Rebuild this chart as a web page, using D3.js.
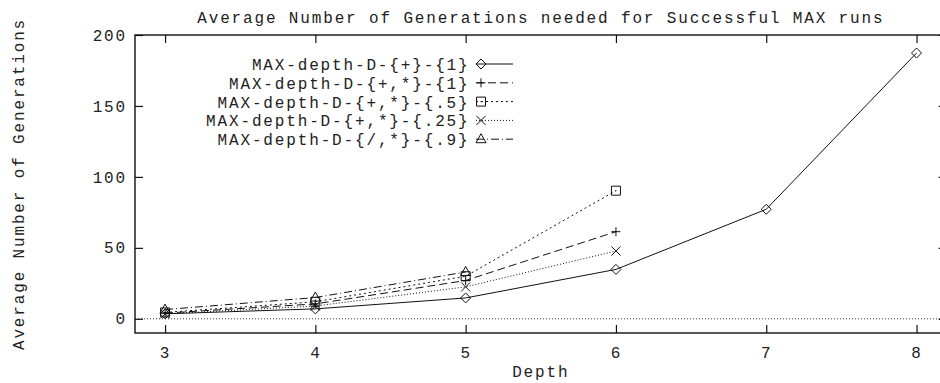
<!DOCTYPE html>
<html>
<head>
<meta charset="utf-8">
<script src="https://cdn.jsdelivr.net/npm/d3@7"></script>
<style>
  html, body { margin: 0; padding: 0; background: #fff; }
  svg { display: block; }
  text { font-family: "Liberation Mono", "Courier New", monospace; font-size: 16px; fill: #222; letter-spacing: 1.85px; }
</style>
</head>
<body>
<svg id="chart" width="940" height="383"></svg>
<script>
// Depth values on the x axis
const depths = [3, 4, 5, 6, 7, 8];

// Average generations per configuration (missing depths are simply absent)
const seriesNames = [
  "MAX-depth-D-{+}-{1}",
  "MAX-depth-D-{+,*}-{1}",
  "MAX-depth-D-{+,*}-{.5}",
  "MAX-depth-D-{+,*}-{.25}",
  "MAX-depth-D-{/,*}-{.9}"
];
const plusOne      = [3.5, 7, 14.7, 34.8, 77.2, 187.3];
const plusTimesOne = [4, 10.5, 27, 61.4];
const plusTimesHalf = [4.5, 12, 30, 90.3];
const plusTimesQuarter = [3.5, 9, 22.5, 47.8];
const divTimesNine = [6.5, 15, 33];

const yTicks = [0, 50, 100, 150, 200];

const seriesValues = [plusOne, plusTimesOne, plusTimesHalf, plusTimesQuarter, divTimesNine];
const dashes = [null, "8,4", "2,3", "1,2", "8,3,1,3"];
const markers = ["diamond", "plus", "square", "cross", "triangle"];

const svg = d3.select("#chart");
const L = 135, R = 946.6, T = 35, B = 333;

const x = d3.scaleLinear().domain([2.8, 8.2]).range([L, R]);
const y = d3.scaleLinear().domain([-10, 200]).range([B, T]);

// zero reference line
svg.append("line")
  .attr("x1", L).attr("x2", R)
  .attr("y1", y(0)).attr("y2", y(0))
  .attr("stroke", "#333").attr("stroke-width", 1)
  .attr("stroke-dasharray", "1,2");

// axes with inward ticks on all four sides
const gx = svg.append("g").attr("transform", `translate(0,${B})`)
  .call(d3.axisBottom(x).tickValues(depths).tickFormat(d3.format("d"))
    .tickSizeInner(-8).tickSizeOuter(0).tickPadding(14));
const gxTop = svg.append("g").attr("transform", `translate(0,${T})`)
  .call(d3.axisTop(x).tickValues(depths).tickFormat("")
    .tickSizeInner(-8).tickSizeOuter(0));
const gy = svg.append("g").attr("transform", `translate(${L},0)`)
  .call(d3.axisLeft(y).tickValues(yTicks).tickFormat(d3.format("d"))
    .tickSizeInner(-8).tickSizeOuter(0).tickPadding(8));
const gyRight = svg.append("g").attr("transform", `translate(${R},0)`)
  .call(d3.axisRight(y).tickValues(yTicks).tickFormat("")
    .tickSizeInner(-8).tickSizeOuter(0));

[gx, gxTop, gy, gyRight].forEach(g => {
  g.select(".domain").remove();
  g.selectAll(".tick line").attr("stroke", "#111").attr("stroke-width", 1.2);
  g.selectAll(".tick text").attr("fill", "#222")
    .style("font-family", '"Liberation Mono", "Courier New", monospace')
    .style("font-size", "16px");
});

// frame
svg.append("rect")
  .attr("x", L).attr("y", T)
  .attr("width", R - L).attr("height", B - T)
  .attr("fill", "none").attr("stroke", "#111").attr("stroke-width", 1.4);

// marker drawing
function marker(g, type, cx, cy) {
  const s = 4.5;
  const st = { stroke: "#111", "stroke-width": 1, fill: "none" };
  let el;
  if (type === "diamond") {
    el = g.append("path").attr("d", `M${cx},${cy - 5}L${cx + 5},${cy}L${cx},${cy + 5}L${cx - 5},${cy}Z`);
  } else if (type === "plus") {
    el = g.append("path").attr("d", `M${cx - s},${cy}H${cx + s}M${cx},${cy - s}V${cy + s}`);
  } else if (type === "square") {
    el = g.append("path").attr("d", `M${cx - s},${cy - s}H${cx + s}V${cy + s}H${cx - s}Z`);
    g.append("rect").attr("x", cx - 0.5).attr("y", cy - 0.5).attr("width", 1).attr("height", 1).attr("fill", "#111");
  } else if (type === "cross") {
    el = g.append("path").attr("d", `M${cx - s},${cy - s}L${cx + s},${cy + s}M${cx - s},${cy + s}L${cx + s},${cy - s}`);
  } else {
    el = g.append("path").attr("d", `M${cx},${cy - 5.5}L${cx + 5},${cy + 3.5}L${cx - 5},${cy + 3.5}Z`);
  }
  Object.entries(st).forEach(([k, v]) => el.attr(k, v));
}

const line = d3.line().x(d => x(d.x)).y(d => y(d.y));
const plot = svg.append("g");

seriesValues.forEach((vals, i) => {
  const pts = vals.map((v, j) => ({ x: depths[j], y: v }));
  const p = plot.append("path").datum(pts)
    .attr("d", line)
    .attr("fill", "none").attr("stroke", "#111").attr("stroke-width", 1);
  if (dashes[i]) p.attr("stroke-dasharray", dashes[i]);
  pts.forEach(d => marker(plot, markers[i], x(d.x), y(d.y)));
});

// legend
const legend = svg.append("g");
const legendTop = 64, legendStep = 18.8;
seriesNames.forEach((name, i) => {
  const ly = legendTop + i * legendStep;
  legend.append("text")
    .attr("x", 469.5).attr("y", ly + 6)
    .attr("text-anchor", "end")
    .text(name);
  const l = legend.append("line")
    .attr("x1", 476).attr("x2", 513)
    .attr("y1", ly).attr("y2", ly)
    .attr("stroke", "#111").attr("stroke-width", 1);
  if (dashes[i]) l.attr("stroke-dasharray", dashes[i]);
  marker(legend, markers[i], 481, ly);
});

// titles
svg.append("text")
  .attr("x", (L + R) / 2).attr("y", 23.3)
  .attr("text-anchor", "middle")
  .text("Average Number of Generations needed for Successful MAX runs");

svg.append("text")
  .attr("x", (L + R) / 2).attr("y", 377)
  .attr("text-anchor", "middle")
  .text("Depth");

svg.append("text")
  .attr("transform", `translate(23.5,${(T + B) / 2}) rotate(-90)`)
  .attr("text-anchor", "middle")
  .text("Average Number of Generations");
</script>
</body>
</html>
